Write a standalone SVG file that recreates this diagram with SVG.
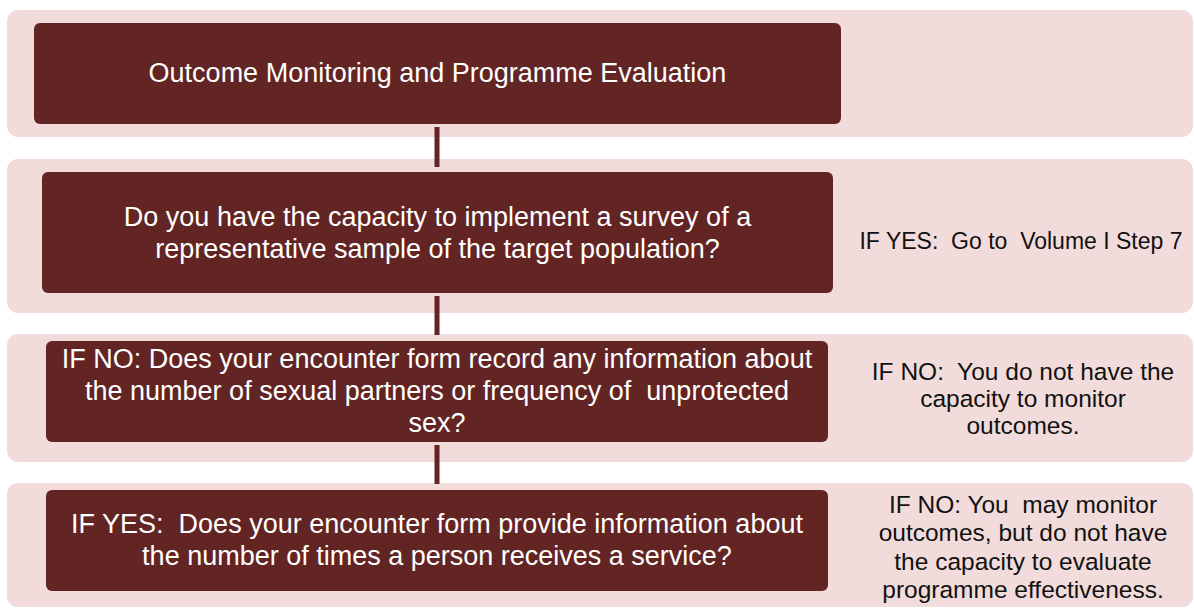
<svg xmlns="http://www.w3.org/2000/svg" width="1194" height="608" viewBox="0 0 1194 608">
<style>
.band{fill:#F2DCDB}
.box{fill:#632523}
.conn{stroke:#632523;stroke-width:5;fill:none}
.bt{font-family:"Liberation Sans",Arial,sans-serif;font-size:27px;fill:#FFFFFF;text-anchor:middle;white-space:pre}
.rt{font-family:"Liberation Sans",Arial,sans-serif;font-size:24.5px;fill:#111111;text-anchor:middle;white-space:pre}
.rs{font-size:23px}
</style>
<rect width="1194" height="608" fill="#FFFFFF"/>
<g id="bands">
<rect class="band" x="7" y="10" width="1186" height="127" rx="11"/>
<rect class="band" x="7" y="159" width="1186" height="154" rx="11"/>
<rect class="band" x="7" y="334" width="1186" height="128" rx="11"/>
<rect class="band" x="7" y="483" width="1186" height="124" rx="11"/>
</g>
<g id="connectors">
<line class="conn" x1="437" y1="127" x2="437" y2="167"/>
<line class="conn" x1="437" y1="296" x2="437" y2="335"/>
<line class="conn" x1="437" y1="445" x2="437" y2="484"/>
</g>
<g id="node1">
<rect class="box" x="34" y="23" width="807" height="101" rx="6"/>
<text class="bt" x="437.5" y="82">Outcome Monitoring and Programme Evaluation</text>
</g>
<g id="node2">
<rect class="box" x="42" y="172" width="791" height="121" rx="6"/>
<text class="bt" x="437.5" y="226">Do you have the capacity to implement a survey of a</text>
<text class="bt" x="437.5" y="258">representative sample of the target population?</text>
</g>
<g id="node2-yes">
<text class="rt rs" x="1021" y="249">IF YES:  Go to  Volume I Step 7</text>
</g>
<g id="node3">
<rect class="box" x="46" y="341" width="782" height="101" rx="6"/>
<text class="bt" x="437" y="368">IF NO: Does your encounter form record any information about</text>
<text class="bt" x="437" y="400">the number of sexual partners or frequency of  unprotected</text>
<text class="bt" x="437" y="432">sex?</text>
</g>
<g id="node3-no">
<text class="rt" x="1023" y="380">IF NO:  You do not have the</text>
<text class="rt" x="1023" y="407">capacity to monitor</text>
<text class="rt" x="1023" y="434">outcomes.</text>
</g>
<g id="node4">
<rect class="box" x="46" y="490" width="782" height="101" rx="6"/>
<text class="bt" x="437" y="533">IF YES:  Does your encounter form provide information about</text>
<text class="bt" x="437" y="565">the number of times a person receives a service?</text>
</g>
<g id="node4-no">
<text class="rt" x="1023" y="513">IF NO: You  may monitor</text>
<text class="rt" x="1023" y="541">outcomes, but do not have</text>
<text class="rt" x="1023" y="570">the capacity to evaluate</text>
<text class="rt" x="1023" y="598">programme effectiveness.</text>
</g>
</svg>
